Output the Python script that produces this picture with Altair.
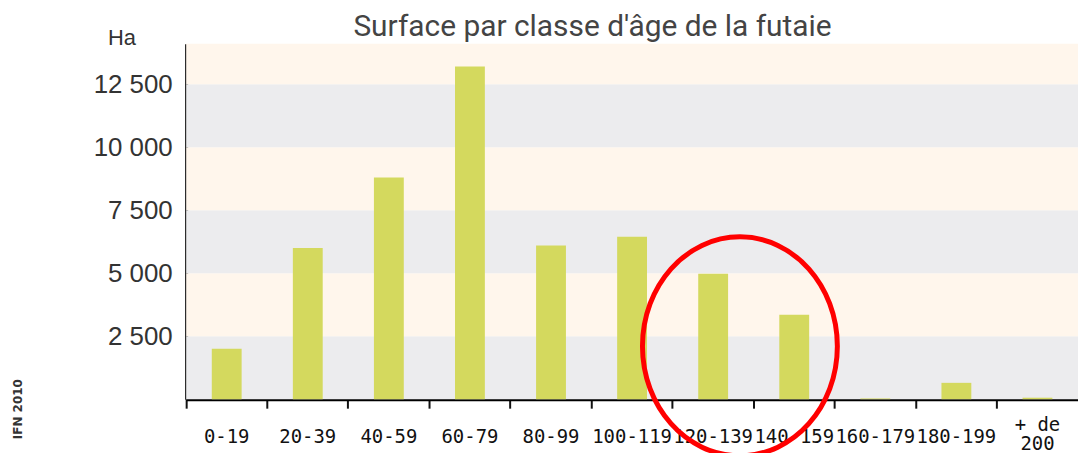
import altair as alt
import pandas as pd

categories = ["0-19", "20-39", "40-59", "60-79", "80-99", "100-119", "120-139",
              "140-159", "160-179", "180-199", "+ de 200"]
surfaces = [2000, 6000, 8800, 13200, 6100, 6450, 4980, 3350, 30, 650, 60]

band_starts = [0, 2500, 5000, 7500, 10000, 12500]
band_ends = [2500, 5000, 7500, 10000, 12500, 14100]
band_kind = ["gris", "creme", "gris", "creme", "gris", "creme"]

y_ticks = [2500, 5000, 7500, 10000, 12500]
y_max = 14100

# annotation (red circle) placed around the 120-139 / 140-159 classes
circle_cat = ["120-139"]
circle_val = [2100]

df = pd.DataFrame({"classe": categories, "surface": surfaces})
bands = pd.DataFrame({"y0": band_starts, "y1": band_ends, "kind": band_kind})
circ = pd.DataFrame({"classe": circle_cat, "v": circle_val})

x_scale = alt.Scale(domain=categories, paddingInner=0, paddingOuter=0)
y_scale = alt.Scale(domain=[0, y_max], nice=False)

bg = alt.Chart(bands).mark_rect().encode(
    y=alt.Y("y0:Q", scale=y_scale),
    y2="y1:Q",
    color=alt.Color("kind:N",
                    scale=alt.Scale(domain=["gris", "creme"], range=["#ECECEE", "#FFF6EC"]),
                    legend=None),
)

label_expr = ("datum.value == '+ de 200' ? ['+ de', '200'] : datum.value")
y_label_expr = ("floor(datum.value / 1000) + '  ' + "
                "(datum.value % 1000 == 0 ? '000' : '' + (datum.value % 1000))")

bars = alt.Chart(df).mark_bar(size=30, color="#D4D95E").encode(
    x=alt.X("classe:N", sort=categories, scale=x_scale,
            axis=alt.Axis(title=None, labelAngle=0, bandPosition=0,
                          labelExpr=label_expr,
                          labelFont="DejaVu Sans Mono", labelFontSize=19,
                          labelColor="#111",
                          labelPadding={"condition": {"test": "datum.value == '+ de 200'",
                                                      "value": 16},
                                        "value": 28},
                          labelBaseline="middle",
                          labelLineHeight=20,
                          tickColor="#111", tickWidth=2, tickSize=9,
                          domainColor="#000", domainWidth=3,
                          labelOverlap=False, labelBound=False, labelFlush=False)),
    y=alt.Y("surface:Q", scale=y_scale,
            axis=alt.Axis(values=y_ticks, labelExpr=y_label_expr,
                          title="Ha", titleAngle=0, titleX=-65, titleY=-6,
                          titleAlign="center", titleBaseline="middle",
                          titleFont="Liberation Sans", titleFontSize=22,
                          titleFontWeight="normal", titleColor="#333",
                          labelFont="Liberation Sans", labelFontSize=26,
                          labelColor="#333", labelPadding=14,
                          ticks=False, grid=False,
                          domainColor="#000", domainWidth=3)),
)

ellipse_path = "M -0.89 0 A 0.89 1 0 1 0 0.89 0 A 0.89 1 0 1 0 -0.89 0 Z"
circle = alt.Chart(circ).mark_point(
    shape=ellipse_path, size=48400, filled=False, stroke="#FF0000", strokeWidth=5,
    opacity=1,
).encode(
    x=alt.X("classe:N", sort=categories, scale=x_scale, bandPosition=0.83),
    y=alt.Y("v:Q", scale=y_scale),
)

ifn = alt.Chart(pd.DataFrame({"t": ["IFN 2010"]})).mark_text(
    angle=270, font="DejaVu Sans", fontSize=12, fontWeight="bold", color="#333",
).encode(text="t:N", x=alt.value(-169), y=alt.value(367))

chart = alt.layer(bg, bars, circle, ifn).properties(
    width=896,
    height=357,
    title=alt.TitleParams("Surface par classe d'âge de la futaie",
                          anchor="start", dx=168, dy=22, offset=7, frame="group",
                          font="Roboto", fontSize=30, fontWeight="normal",
                          color="#444"),
    autosize=alt.AutoSizeParams(type="none"),
    padding={"left": 179, "top": 35, "right": 0, "bottom": 53},
).configure_view(stroke=None)

chart.save("out.html", embed_options={"renderer": "svg", "actions": False})
